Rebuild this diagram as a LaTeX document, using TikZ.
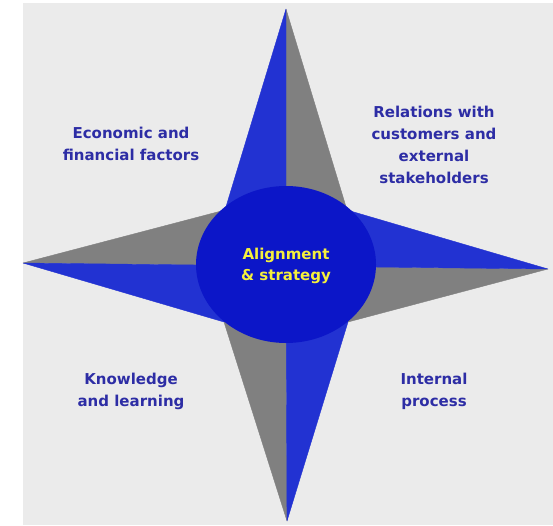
\documentclass[tikz,border=0pt]{standalone}
\usepackage{fontspec}
\setmainfont{DejaVu Sans}
\definecolor{bg}{RGB}{235,235,235}
\definecolor{armblue}{RGB}{34,50,210}
\definecolor{armgray}{RGB}{128,128,128}
\definecolor{hubblue}{RGB}{12,22,200}
\definecolor{txtblue}{RGB}{45,45,165}
\definecolor{txtyellow}{RGB}{245,240,60}
\tikzset{
  lbl/.style={text=txtblue, font=\fontsize{15}{22}\selectfont\bfseries, align=center, inner sep=0pt},
  hublbl/.style={text=txtyellow, font=\fontsize{15}{21}\selectfont\bfseries, align=center, inner sep=0pt},
  bluehalf/.style={fill=armblue, draw=armblue, line width=0.4pt, line join=round},
  grayhalf/.style={fill=armgray, draw=armgray, line width=0.4pt, line join=round},
}
\begin{document}
\begin{tikzpicture}[x=1pt,y=-1pt]
\useasboundingbox (0,0) rectangle (553,525);
\fill[white] (0,0) rectangle (553,525);
\fill[bg] (23,3) rectangle (553,525);
% key points
\coordinate (c) at (286,266);
\coordinate (tT) at (286,9);
\coordinate (tB) at (287,521);
\coordinate (tL) at (23,263);
\coordinate (tR) at (548,269);
\coordinate (iUL) at (225,210);
\coordinate (iUR) at (347,210);
\coordinate (iLR) at (348,322);
\coordinate (iLL) at (224,322);
% arms
\filldraw[grayhalf] (tT) -- (c) -- (iUR) -- cycle;
\filldraw[grayhalf] (tR) -- (c) -- (iLR) -- cycle;
\filldraw[grayhalf] (tB) -- (c) -- (iLL) -- cycle;
\filldraw[grayhalf] (tL) -- (c) -- (iUL) -- cycle;
\filldraw[bluehalf] (tT) -- (iUL) -- (c) -- cycle;
\filldraw[bluehalf] (tR) -- (iUR) -- (c) -- cycle;
\filldraw[bluehalf] (tB) -- (iLR) -- (c) -- cycle;
\filldraw[bluehalf] (tL) -- (iLL) -- (c) -- cycle;
% hub
\fill[hubblue] (286,264.5) ellipse [x radius=90, y radius=78.5];
\node[hublbl] (hub) at (286,266) {Alignment\\\& strategy};
% labels
\node[lbl] (econ) at (131,144) {Economic and\\financial factors};
\node[lbl] (rel) at (434,145) {Relations with\\customers and\\external\\stakeholders};
\node[lbl] (know) at (131,391) {Knowledge\\and learning};
\node[lbl] (int) at (434,391) {Internal\\process};
\end{tikzpicture}
\end{document}
